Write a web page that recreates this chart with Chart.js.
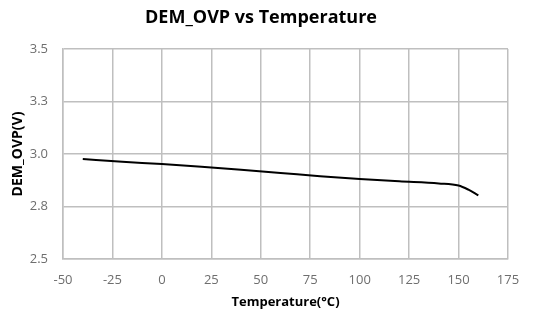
<!DOCTYPE html>
<html>
<head>
<meta charset="utf-8">
<script src="https://cdn.jsdelivr.net/npm/chart.js@4/dist/chart.umd.min.js"></script>
<style>
  html, body { margin: 0; padding: 0; background: #fff; }
  #wrap { width: 542px; height: 314px; }
</style>
</head>
<body>
<div id="wrap"><canvas id="myChart" width="542" height="314"></canvas></div>
<script>
// temperatures (°C) and measured DEM_OVP (V)
var temps = [-40, -20, 0, 20, 40, 60, 80, 100, 120, 140, 150, 155, 160];
var ovp = [2.976, 2.963, 2.952, 2.939, 2.925, 2.910, 2.894, 2.881, 2.870, 2.860, 2.850, 2.830, 2.803];

var xTicks = [-50, -25, 0, 25, 50, 75, 100, 125, 150, 175];
var yTicks = [2.5, 2.75, 3.0, 3.25, 3.5];

var chartTitle = 'DEM_OVP vs Temperature';
var gridColor = '#bfbfbf';
var tickColor = '#6e6e6e';
var fontName = "'Open Sans', 'Liberation Sans', sans-serif";

var points = [];
for (var i = 0; i < temps.length; i++) {
	points.push({ x: temps[i], y: ovp[i] });
}

// title drawn by hand so it sits where the original one is
var titlePlugin = {
	id: 'ovpTitle',
	afterDraw: function(chart) {
		var c = chart.ctx;
		c.save();
		c.font = 'bold 18px ' + fontName;
		c.fillStyle = '#000';
		c.textAlign = 'center';
		c.textBaseline = 'middle';
		c.fillText(chartTitle, 261, 18);
		c.restore();
	}
};

var ctx = document.getElementById('myChart');

var myChart = new Chart(ctx, {
	type: 'line',
	data: {
		datasets: [{
			data: points,
			borderColor: '#000',
			borderWidth: 2,
			pointRadius: 0,
			tension: 0.4,
			cubicInterpolationMode: 'monotone',
			fill: false
		}]
	},
	options: {
		responsive: false,
		animation: false,
		layout: { padding: { left: 0, right: 34, top: 49, bottom: 0 } },
		plugins: {
			legend: { display: false },
			tooltip: { enabled: false },
			title: { display: false }
		},
		scales: {
			x: {
				type: 'linear',
				min: xTicks[0],
				max: xTicks[xTicks.length - 1],
				afterFit: function(s) { s.height = 55; },
				afterBuildTicks: function(s) { s.ticks = xTicks.map(function(v) { return { value: v }; }); },
				grid: { color: gridColor, lineWidth: 1.5, drawTicks: false },
				border: { color: gridColor, width: 1.5 },
				ticks: {
					color: tickColor,
					padding: 13,
					font: { family: fontName, size: 13 }
				},
				title: {
					display: true,
					text: 'Temperature(°C)',
					color: '#000',
					font: { family: fontName, size: 13, weight: 'bold' },
					padding: { top: 4 }
				}
			},
			y: {
				type: 'linear',
				min: yTicks[0],
				max: yTicks[yTicks.length - 1],
				afterFit: function(s) { s.width = 63; },
				afterBuildTicks: function(s) { s.ticks = yTicks.map(function(v) { return { value: v }; }); },
				grid: { color: gridColor, lineWidth: 1.5, drawTicks: false },
				border: { color: gridColor, width: 1.5 },
				ticks: {
					color: tickColor,
					padding: 15,
					font: { family: fontName, size: 13 },
					callback: function(v) { return v.toFixed(1); }
				},
				title: {
					display: true,
					text: 'DEM_OVP(V)',
					color: '#000',
					font: { family: fontName, size: 14, weight: 'bold' },
					padding: { top: 10, bottom: 0 }
				}
			}
		}
	},
	plugins: [titlePlugin]
});
</script>
</body>
</html>
